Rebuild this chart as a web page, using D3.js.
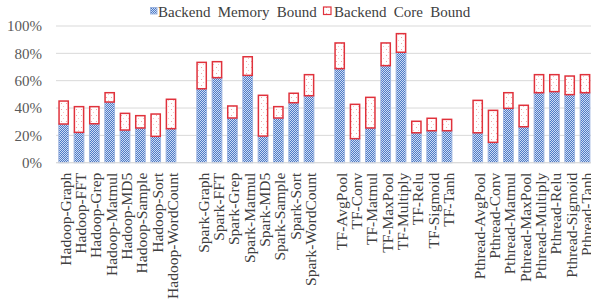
<!DOCTYPE html>
<html>
<head>
<meta charset="utf-8">
<script src="https://cdn.jsdelivr.net/npm/d3@7"></script>
<style>
  html, body { margin: 0; padding: 0; background: #fff; }
  svg text { font-family: "Liberation Serif", "Times New Roman", Times, serif; }
  .tick-label { font-size: 15px; fill: #595959; }
  .cat-label { font-size: 15.5px; fill: #404040; }
  .legend-text { font-size: 15px; fill: #404040; word-spacing: 3.5px; }
</style>
</head>
<body>
<div id="chart"></div>
<script>
// workloads, grouped by framework (a blank slot goes between groups)
var categories = [
  "Hadoop-Graph", "Hadoop-FFT", "Hadoop-Grep", "Hadoop-Matmul",
  "Hadoop-MD5", "Hadoop-Sample", "Hadoop-Sort", "Hadoop-WordCount",
  "Spark-Graph", "Spark-FFT", "Spark-Grep", "Spark-Matmul",
  "Spark-MD5", "Spark-Sample", "Spark-Sort", "Spark-WordCount",
  "TF-AvgPool", "TF-Conv", "TF-Matmul", "TF-MaxPool",
  "TF-Multiply", "TF-Relu", "TF-Sigmoid", "TF-Tanh",
  "Pthread-AvgPool", "Pthread-Conv", "Pthread-Matmul", "Pthread-MaxPool",
  "Pthread-Multiply", "Pthread-Relu", "Pthread-Sigmoid", "Pthread-Tanh"
];

// percent of cycles
var memoryBound = [
  28.3, 22.2, 28.5, 44.4, 23.9, 25.4, 19.3, 24.9,
  54.1, 62.2, 32.7, 63.9, 19.5, 32.7, 43.9, 49.0,
  68.8, 17.6, 25.4, 71.0, 80.8, 21.9, 23.4, 23.4,
  21.9, 14.9, 39.8, 26.3, 51.2, 52.0, 49.8, 51.2
];
var coreBound = [
  16.8, 18.8, 12.5, 6.8, 12.2, 9.0, 16.3, 21.5,
  19.3, 11.7, 8.8, 13.6, 29.8, 8.3, 6.9, 15.4,
  18.8, 25.1, 22.4, 16.6, 13.6, 8.4, 9.1, 8.3,
  23.7, 23.4, 11.4, 15.7, 13.2, 12.4, 13.6, 13.2
];

var yTicks = [0, 20, 40, 60, 80, 100];
var seriesNames = ["Backend Memory Bound", "Backend Core Bound"];

var width = 591, height = 302;
var plotLeft = 56, plotRight = 592.7, plotTop = 26, plotBottom = 162.7;

// slot list with gap markers where the framework prefix changes
var slots = [];
categories.forEach(function(c, i) {
  if (i > 0 && c.split("-")[0] !== categories[i - 1].split("-")[0]) {
    slots.push("gap" + i);
  }
  slots.push(c);
});

var x = d3.scaleBand()
  .domain(slots)
  .range([plotLeft, plotRight])
  .paddingInner(0.3)
  .paddingOuter(0.15);

var y = d3.scaleLinear()
  .domain([0, 100])
  .range([plotBottom, plotTop]);

var svg = d3.select("#chart").append("svg")
  .attr("width", width)
  .attr("height", height)
  .style("display", "block");

// fill patterns: blue checker, sparse red dots
var defs = svg.append("defs");
var bluePat = defs.append("pattern")
  .attr("id", "memPat")
  .attr("patternUnits", "userSpaceOnUse")
  .attr("width", 2).attr("height", 2);
bluePat.append("rect").attr("width", 2).attr("height", 2).attr("fill", "#4d7bc8");
bluePat.append("rect").attr("width", 1).attr("height", 1).attr("fill", "#cfdcf2");
bluePat.append("rect").attr("x", 1).attr("y", 1).attr("width", 1).attr("height", 1).attr("fill", "#cfdcf2");

var redPat = defs.append("pattern")
  .attr("id", "corePat")
  .attr("patternUnits", "userSpaceOnUse")
  .attr("width", 5).attr("height", 6);
redPat.append("rect").attr("width", 5).attr("height", 6).attr("fill", "#fff");
redPat.append("rect").attr("x", 1).attr("y", 1).attr("width", 1).attr("height", 1).attr("fill", "#f2a5a8");
redPat.append("rect").attr("x", 3).attr("y", 4).attr("width", 1).attr("height", 1).attr("fill", "#f6c4c6");

// gridlines
svg.append("g").selectAll("line")
  .data(yTicks)
  .enter().append("line")
    .attr("x1", plotLeft).attr("x2", width)
    .attr("y1", function(d) { return y(d); })
    .attr("y2", function(d) { return y(d); })
    .style("stroke", "#d9d9d9")
    .style("stroke-width", 1);

// y axis labels
var yAxis = d3.axisLeft(y).tickValues(yTicks).tickSize(0).tickPadding(14)
  .tickFormat(function(d) { return d + "%"; });
var yg = svg.append("g").attr("transform", "translate(" + plotLeft + ",0)").call(yAxis);
yg.attr("font-family", null).attr("font-size", null);
yg.select(".domain").remove();
yg.selectAll("text").attr("class", "tick-label");

var rows = categories.map(function(c, i) {
  return { name: c, mem: memoryBound[i], core: coreBound[i] };
});

// memory bound (bottom)
svg.append("g").selectAll("rect")
  .data(rows)
  .enter().append("rect")
    .attr("x", function(d) { return x(d.name) + 0.5; })
    .attr("width", x.bandwidth() - 1)
    .attr("y", function(d) { return y(d.mem); })
    .attr("height", function(d) { return y(0) - y(d.mem); })
    .attr("fill", "url(#memPat)")
    .style("stroke", "#9db5e0")
    .style("stroke-width", 1);

// core bound (stacked on top)
svg.append("g").selectAll("rect")
  .data(rows)
  .enter().append("rect")
    .attr("x", function(d) { return x(d.name) + 0.75; })
    .attr("width", x.bandwidth() - 1.5)
    .attr("y", function(d) { return y(d.mem + d.core); })
    .attr("height", function(d) { return y(d.mem) - y(d.mem + d.core); })
    .attr("fill", "url(#corePat)")
    .style("stroke", "#e0323c")
    .style("stroke-width", 1.5);

// baseline
svg.append("line")
  .attr("x1", plotLeft).attr("x2", width)
  .attr("y1", y(0)).attr("y2", y(0))
  .style("stroke", "#d9d9d9");

// category labels, rotated
svg.append("g").selectAll("text")
  .data(categories)
  .enter().append("text")
    .attr("class", "cat-label")
    .attr("text-anchor", "end")
    .attr("dy", "0.35em")
    .attr("transform", function(d) {
      return "translate(" + (x(d) + x.bandwidth() / 2 + 1.5) + "," + (plotBottom + 10) + ") rotate(-90)";
    })
    .text(function(d) { return d; });

// legend
var legend = svg.append("g");
legend.append("rect")
  .attr("x", 150.5).attr("y", 7.5).attr("width", 6.5).attr("height", 6.5)
  .attr("fill", "url(#memPat)")
  .style("stroke", "#9db5e0").style("stroke-width", 1);
legend.append("text").attr("class", "legend-text")
  .attr("x", 158).attr("y", 17).text(seriesNames[0]);
legend.append("rect")
  .attr("x", 323.5).attr("y", 7).attr("width", 7.5).attr("height", 7.5)
  .attr("fill", "url(#corePat)")
  .style("stroke", "#e0323c").style("stroke-width", 1.2);
legend.append("text").attr("class", "legend-text")
  .attr("x", 334).attr("y", 17).text(seriesNames[1]);
</script>
</body>
</html>
